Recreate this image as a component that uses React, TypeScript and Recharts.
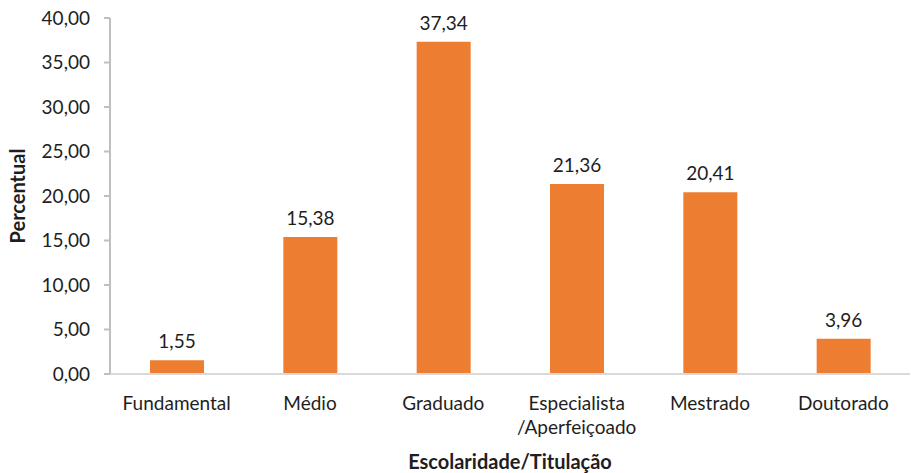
import React from "react";
import { BarChart, Bar, XAxis, YAxis, LabelList, Label } from "recharts";

const categories = ["Fundamental", "Médio", "Graduado", "Especialista\n/Aperfeiçoado", "Mestrado", "Doutorado"];
const values = [1.55, 15.38, 37.34, 21.36, 20.41, 3.96];
const yTicks = [0, 5, 10, 15, 20, 25, 30, 35, 40];

const data = categories.map((c, i) => ({ name: c, value: values[i] }));

const fmt = (v: number) => v.toFixed(2).replace(".", ",");
const FONT = "Lato, 'Open Sans', sans-serif";
const TEXT = "#1e1e1e";
const FS = 19;

const XTick = (props: any) => {
  const { x, y, payload } = props;
  const lines = String(payload.value).split("\n");
  return (
    <g transform={`translate(${x},${y})`}>
      {lines.map((l, i) => (
        <text key={i} x={0} y={0} dy={28 + i * 24} textAnchor="middle" fill={TEXT} fontSize={FS} fontFamily={FONT}>
          {l}
        </text>
      ))}
    </g>
  );
};

export default function App() {
  return (
    <div style={{ position: "absolute", left: 0, top: 0 }}>
      <BarChart width={911} height={473} data={data} margin={{ top: 18, right: 1, left: 0, bottom: 0 }}>
        <XAxis
          dataKey="name"
          tick={<XTick />}
          tickLine={false}
          axisLine={{ stroke: "#D9D9D9", strokeWidth: 2 }}
          height={99}
          interval={0}
        >
          <Label value="Escolaridade/Titulação" position="insideBottom" offset={4} fill={TEXT} fontSize={20} fontWeight="bold" fontFamily={FONT} />
        </XAxis>
        <YAxis
          domain={[0, 40]}
          ticks={yTicks}
          tickFormatter={fmt}
          width={110}
          tickSize={6}
          tickMargin={14}
          tickLine={{ stroke: "#BFBFBF", strokeWidth: 2 }}
          axisLine={{ stroke: "#BFBFBF", strokeWidth: 2 }}
          tick={{ fill: TEXT, fontSize: FS, fontFamily: FONT }}
        >
          <Label value="Percentual" angle={-90} position="insideLeft" offset={18} fill={TEXT} fontSize={20} fontWeight="bold" fontFamily={FONT} style={{ textAnchor: "middle" }} />
        </YAxis>
        <Bar dataKey="value" fill="#ED7D31" barSize={54} isAnimationActive={false}>
          <LabelList dataKey="value" position="top" offset={12} formatter={(v: any) => fmt(Number(v))} fill={TEXT} fontSize={FS} fontFamily={FONT} />
        </Bar>
      </BarChart>
    </div>
  );
}
